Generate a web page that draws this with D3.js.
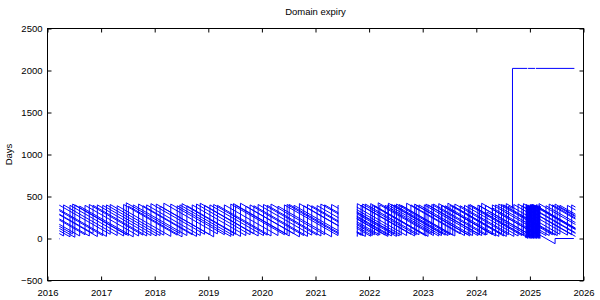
<!DOCTYPE html>
<html>
<head>
<meta charset="utf-8">
<script src="https://cdn.jsdelivr.net/npm/d3@7"></script>
<style>
html,body{margin:0;padding:0;background:#fff;}
svg{display:block;font-family:"Liberation Sans",Arial,sans-serif;}
</style>
</head>
<body>
<svg id="chart" width="600" height="300"></svg>
<script>
// ---- data: each domain = list of [decimal year, days until expiry]; null = gap in data ----
const chartTitle = "Domain expiry";
const yLabel = "Days";
const xTicks = [2016, 2017, 2018, 2019, 2020, 2021, 2022, 2023, 2024, 2025, 2026];
const yTicks = [-500, 0, 500, 1000, 1500, 2000, 2500];

const d00 = [[2016.215,2],[2016.225,-4]];
const d01 = [[2016.22,331],[2017.03,35],[2017.03,395],[2018.03,30],[2018.03,410],[2019.03,45],[2019.03,400],[2020.03,35],[2020.03,405],[2021.03,40],[2021.03,392],[2021.43,246],null,[2021.77,122],[2022.03,27],[2022.03,415],[2023.03,50],[2023.03,400],[2024.03,35],[2024.03,398],[2025.03,33],[2025.03,405],[2025.85,106]];
const d02 = [[2016.22,346],[2017.10,25],[2017.10,400],[2018.10,35],[2018.10,385],[2019.10,20],[2019.10,405],[2020.10,40],[2020.10,395],[2021.10,30],[2021.10,410],[2021.43,290],null,[2021.77,165],[2022.10,45],[2022.10,390],[2023.10,25],[2023.10,400],[2024.10,35],[2024.10,420],[2025.10,55],[2025.10,395],[2025.85,121]];
const d03 = [[2016.22,397],[2017.17,50],[2017.17,405],[2018.17,40],[2018.17,420],[2019.17,55],[2019.17,395],[2020.17,30],[2020.17,410],[2021.17,45],[2021.17,400],[2021.43,305],null,[2021.77,181],[2022.17,35],[2022.17,425],[2023.17,60],[2023.17,405],[2024.17,40],[2024.17,395],[2025.17,30],[2025.17,415],[2025.85,167]];
const d04 = [[2016.22,59],[2016.30,30],[2016.30,400],[2017.30,35],[2017.30,390],[2018.30,25],[2018.30,410],[2019.30,45],[2019.30,400],[2020.30,35],[2020.30,385],[2021.30,20],[2021.30,405],[2021.43,358],null,[2021.77,233],[2022.30,40],[2022.30,395],[2023.30,30],[2023.30,415],[2024.30,50],[2024.30,400],[2025.30,35],[2025.30,390],[2025.85,189]];
const d05 = [[2016.22,93],[2016.42,20],[2016.42,395],[2017.42,30],[2017.42,405],[2018.42,40],[2018.42,390],[2019.42,25],[2019.42,410],[2020.42,45],[2020.42,400],[2021.42,35],[2021.42,395],[2021.43,391],null,[2021.77,267],[2022.42,30],[2022.42,405],[2023.42,40],[2023.42,390],[2024.42,25],[2024.42,410],[2025.42,45],[2025.42,400],[2025.85,243]];
const d06 = [[2016.22,146],[2016.47,55],[2016.47,410],[2017.47,45],[2017.47,425],[2018.47,60],[2018.47,400],[2019.47,35],[2019.47,415],[2020.47,50],[2020.47,405],[2021.43,55],null,[2021.77,310],[2022.47,55],[2022.47,400],[2023.47,35],[2023.47,420],[2024.47,55],[2024.47,405],[2025.47,40],[2025.47,410],[2025.85,271]];
const d07 = [[2016.22,121],[2016.51,15],[2016.51,400],[2017.51,35],[2017.51,385],[2018.51,20],[2018.51,415],[2019.51,50],[2019.51,395],[2020.51,30],[2020.51,405],[2021.43,69],null,[2021.77,295],[2022.51,25],[2022.51,410],[2023.51,45],[2023.51,395],[2024.51,30],[2024.51,400],[2025.51,35],[2025.51,385],[2025.85,261]];
const d08 = [[2016.22,169],[2016.60,30],[2016.60,385],[2017.60,20],[2017.60,400],[2018.60,35],[2018.60,390],[2019.60,25],[2019.60,420],[2020.60,55],[2020.60,395],[2021.43,92],null,[2021.77,343],[2022.60,40],[2022.60,395],[2023.60,30],[2023.60,410],[2024.60,45],[2024.60,385],[2024.675,358],[2024.675,2025],[2024.952,2025],null,[2024.966,2025],[2025.095,2025],null,[2025.11,2025],[2025.83,2025]];
const d09 = [[2016.22,220],[2016.70,45],[2016.70,395],[2017.70,30],[2017.70,410],[2018.70,45],[2018.70,400],[2019.70,35],[2019.70,385],[2020.70,20],[2020.70,415],[2021.43,149],null,[2021.77,374],[2022.70,35],[2022.70,420],[2023.70,55],[2023.70,390],[2024.70,25],[2024.70,405],[2025.70,40],[2025.70,395],[2025.85,340]];
const d10 = [[2016.22,234],[2016.78,30],[2016.78,405],[2017.78,40],[2017.78,390],[2018.78,25],[2018.78,410],[2019.78,45],[2019.78,400],[2020.78,35],[2020.78,390],[2021.43,153],null,[2021.77,29],[2021.78,25],[2021.78,415],[2022.78,50],[2022.78,400],[2023.78,35],[2023.78,395],[2024.78,30],[2024.78,410],[2025.78,45],[2025.78,400],[2025.85,374]];
const d11 = [[2016.22,290],[2016.85,60],[2016.85,395],[2017.85,30],[2017.85,400],[2018.85,35],[2018.85,420],[2019.85,55],[2019.85,390],[2020.85,25],[2020.85,405],[2021.43,193],null,[2021.77,69],[2021.85,40],[2021.85,395],[2022.85,30],[2022.85,410],[2023.85,45],[2023.85,400],[2024.85,35],[2024.85,390],[2025.85,25]];
const d12 = [[2016.22,282],[2016.93,23],[2016.93,400],[2017.93,35],[2017.93,415],[2018.93,50],[2018.93,395],[2019.93,30],[2019.93,405],[2020.93,40],[2020.93,390],[2021.43,207],null,[2021.77,83],[2021.93,25],[2021.93,410],[2022.93,45],[2022.93,400],[2023.93,35],[2023.93,385],[2024.93,20],[2024.93,405],[2025.85,69]];
const d13 = [[2021.77,141],[2022.06,35],[2022.06,395],[2023.06,30],[2023.06,410],[2024.06,45],[2024.06,390],[2025.06,25],[2025.06,400],[2025.85,112]];
const d14 = [[2021.77,255],[2022.36,40],[2022.36,420],[2023.36,55],[2023.36,395],[2024.36,30],[2024.36,400],[2025.36,35],[2025.36,410],[2025.85,231]];
const d15 = [[2021.77,318],[2022.56,30],[2022.56,405],[2023.56,40],[2023.56,390],[2024.56,25],[2024.56,415],[2025.56,50],[2025.56,395],[2025.85,289]];
const d16 = [[2021.77,75],[2021.88,35],[2021.88,410],[2022.88,45],[2022.88,395],[2023.88,30],[2023.88,405],[2024.88,40],[2024.88,415],[2025.85,61]];
const d17 = [[2021.77,237],[2022.35,25],[2022.35,400],[2023.35,35],[2023.35,395],[2024.30,48],[2024.30,365],[2025.47,-62],[2025.47,0],[2025.82,0]];
const d18 = [[2021.77,200],[2022.20,43],[2022.20,400],[2023.20,35],[2023.20,410],[2024.20,45],[2024.20,315],[2024.90,60],[2024.93,5],[2024.935,385],[2024.945,10],[2024.95,395],[2024.96,0],[2024.965,380],[2024.975,15],[2024.98,400],[2024.99,5],[2024.995,390],[2025.005,0],[2025.01,405],[2025.02,10],[2025.025,385],[2025.035,0],[2025.04,395],[2025.05,5],[2025.055,410],[2025.065,0],[2025.07,390],[2025.08,10],[2025.085,400],[2025.095,0],[2025.10,385],[2025.11,5],[2025.115,395],[2025.125,0],[2025.13,405],[2025.14,10],[2025.145,390],[2025.155,0],[2025.16,380],[2025.17,5],[2025.175,395],[2025.185,0],[2025.19,385],[2025.20,360],[2025.85,123]];

const domains = [d00,d01,d02,d03,d04,d05,d06,d07,d08,d09,d10,d11,d12,d13,d14,d15,d16,d17,d18];

// ---- layout ----
const svg = d3.select("#chart");
const mL = 47.5, mR = 583.5, mT = 28.5, mB = 280.5;

const x = d3.scaleLinear().domain([2016, 2026]).range([mL, mR]);
const y = d3.scaleLinear().domain([-500, 2500]).range([mB, mT]);

svg.append("defs").append("clipPath").attr("id","clip")
  .append("rect").attr("x", mL).attr("y", mT).attr("width", mR-mL).attr("height", mB-mT);

// series
const line = d3.line().defined(d => d !== null).x(d => x(d[0])).y(d => y(d[1]));
svg.append("g").attr("clip-path","url(#clip)")
  .selectAll("path").data(domains).join("path")
  .attr("d", line)
  .attr("fill","none")
  .attr("stroke","#0000ff")
  .attr("stroke-width",1)
  .attr("stroke-linejoin","miter");

// axes (gnuplot style: inward ticks, mirrored)
const tickLen = 4;
const axB = svg.append("g").attr("transform",`translate(0,${mB})`)
  .call(d3.axisBottom(x).tickValues(xTicks).tickFormat(d3.format("d")).tickSizeInner(-tickLen).tickSizeOuter(0).tickPadding(8));
const axT = svg.append("g").attr("transform",`translate(0,${mT})`)
  .call(d3.axisTop(x).tickValues(xTicks).tickFormat("").tickSizeInner(-tickLen).tickSizeOuter(0));
const axL = svg.append("g").attr("transform",`translate(${mL},0)`)
  .call(d3.axisLeft(y).tickValues(yTicks).tickFormat(d3.format("d")).tickSizeInner(-tickLen).tickSizeOuter(0).tickPadding(8));
const axR = svg.append("g").attr("transform",`translate(${mR},0)`)
  .call(d3.axisRight(y).tickValues(yTicks).tickFormat("").tickSizeInner(-tickLen).tickSizeOuter(0));

[axB, axT, axL, axR].forEach(a => {
  a.select(".domain").remove();
  a.selectAll(".tick line").attr("stroke","#000");
  a.selectAll("text").attr("fill","#000").style("font-size","9.5px").style("font-family","'Liberation Sans',Arial,sans-serif");
});
axL.selectAll("text").attr("x", -5);
axB.selectAll("text").attr("y", 9);

// frame
svg.append("rect").attr("x", mL).attr("y", mT).attr("width", mR-mL).attr("height", mB-mT)
  .attr("fill","none").attr("stroke","#000").attr("stroke-width",1);

// title and axis label
svg.append("text").attr("x", (mL+mR)/2).attr("y", 15).attr("text-anchor","middle")
  .style("font-size","9.5px").attr("fill","#000").text(chartTitle);
svg.append("text").attr("transform",`translate(12,${(mT+mB)/2}) rotate(-90)`)
  .attr("text-anchor","middle").style("font-size","9.5px").attr("fill","#000").text(yLabel);
</script>
</body>
</html>
